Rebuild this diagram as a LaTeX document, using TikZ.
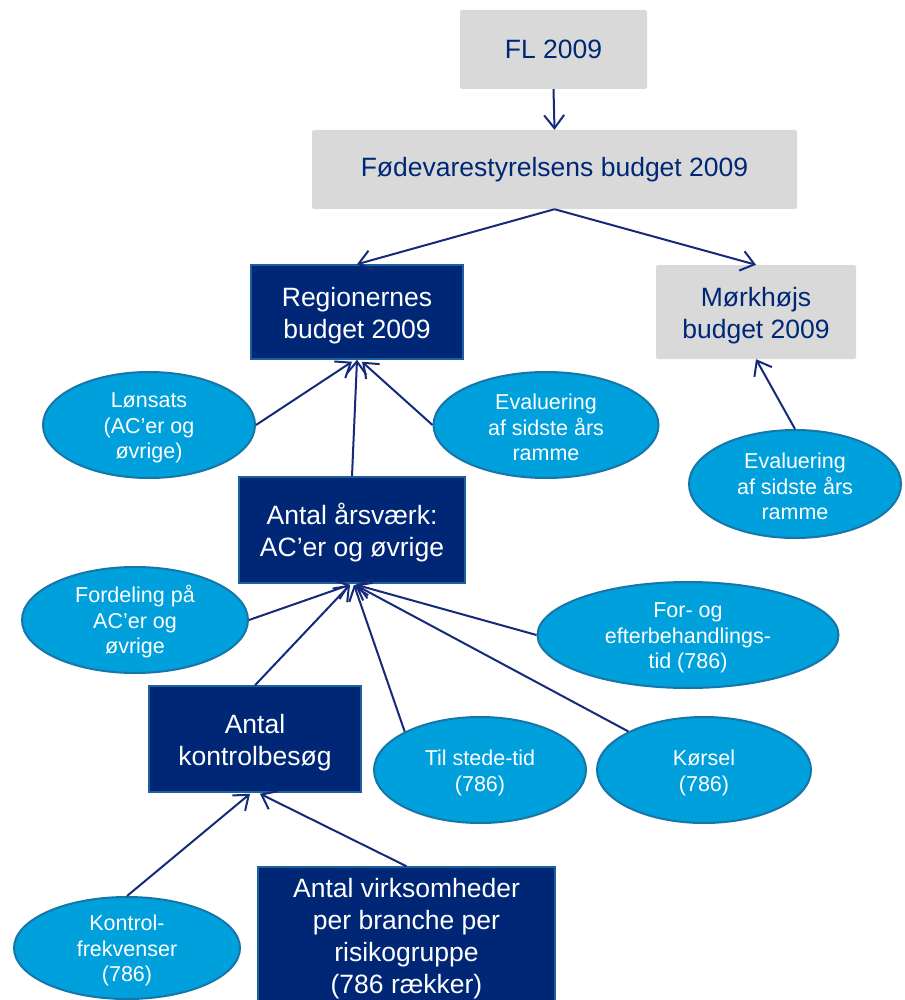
\documentclass[tikz,border=0pt]{standalone}
\usepackage{fontspec}
\setmainfont{Liberation Sans}
\usetikzlibrary{shapes.geometric,arrows.meta,calc}
\definecolor{navy}{RGB}{0,39,118}
\definecolor{navyline}{RGB}{22,42,122}
\definecolor{boxgray}{RGB}{217,217,217}
\definecolor{ellfill}{RGB}{0,160,220}
\definecolor{ellline}{RGB}{22,118,170}
\definecolor{navyborder}{RGB}{28,96,156}
\newcommand{\myTopA}{\rule{0pt}{27pt}}
\newcommand{\myTopB}{\rule{0pt}{21pt}}
\tikzset{
  graybox/.style={rectangle, rounded corners=2pt, fill=boxgray, text=navy,
    font=\fontsize{26.5}{32}\selectfont, align=center, inner sep=0pt},
  navybox/.style={rectangle, fill=navy, draw=navyborder, line width=1.5pt, text=white,
    font=\fontsize{26.5}{32}\selectfont, align=center, inner sep=0pt},
  oval/.style={ellipse, fill=ellfill, draw=ellline, line width=2pt, text=white,
    font=\fontsize{21.5}{25.5}\selectfont, align=center, inner xsep=0pt, inner ysep=-10pt},
  conn/.style={draw=navyline, line width=2pt,
    -{Straight Barb[length=13pt, width=20pt, line width=2pt]}}
}
\begin{document}
\begin{tikzpicture}[x=1pt,y=-1pt]
\useasboundingbox (0,0) rectangle (904,1000);
\clip (0,0) rectangle (904,1000);
\fill[white] (0,0) rectangle (904,1000);

% boxes
\node[graybox, minimum width=187, minimum height=79] (fl) at (553.5,49.5) {FL 2009};
\node[graybox, minimum width=485, minimum height=79] (fod) at (554.5,169.5) {Fødevarestyrelsens budget 2009};
\node[navybox, minimum width=212, minimum height=94] (reg) at (357,312) {\myTopA Regionernes\\budget 2009};
\node[graybox, minimum width=200, minimum height=94] (mork) at (756,312) {\myTopA Mørkhøjs\\budget 2009};
\node[navybox, minimum width=226, minimum height=106] (aars) at (352,530) {\myTopA Antal årsværk:\\AC’er og øvrige};
\node[navybox, minimum width=212, minimum height=106] (kb) at (255,739) {\myTopA Antal\\kontrolbesøg};
\node[navybox, minimum width=297, minimum height=136] (virk) at (406.5,935) {\myTopA Antal virksomheder\\per branche per\\risikogruppe\\(786 rækker)};

% ellipses
\node[oval, minimum width=212, minimum height=106] (lon) at (149,425) {\myTopB Lønsats\\(AC’er og\\øvrige)};
\node[oval, minimum width=225, minimum height=106] (eva) at (546,425) {\myTopB Evaluering\\af sidste års\\ramme};
\node[oval, minimum width=212, minimum height=108] (evb) at (795,484) {\myTopB Evaluering\\af sidste års\\ramme};
\node[oval, minimum width=226, minimum height=106] (ford) at (135,620) {\myTopB Fordeling på\\AC’er og\\øvrige};
\node[oval, minimum width=301, minimum height=106] (forog) at (688,635) {\myTopB For- og\\efterbehandlings-\\tid (786)};
\node[oval, minimum width=212, minimum height=106] (til) at (480,770) {\myTopB Til stede-tid\\(786)};
\node[oval, minimum width=214, minimum height=106] (kor) at (704,770) {\myTopB Kørsel\\(786)};
\node[oval, minimum width=226, minimum height=102] (kon) at (127,948) {\myTopB Kontrol-\\frekvenser\\(786)};

% connectors
\draw[conn] (fl.south) -- (fod.north);
\draw[conn] (fod.south) -- (reg.north);
\draw[conn] (fod.south) -- (mork.north);
\draw[conn] (lon.east) -- ($(reg.south)+(-5,2)$);
\draw[conn] (eva.west) -- ($(reg.south)+(5,2)$);
\draw[conn] (aars.north) -- (reg.south);
\draw[conn] (evb.north) -- (mork.south);
\draw[conn] (ford.east) -- ($(aars.south)+(-2,1)$);
\draw[conn] (kb.north) -- ($(aars.south)+(-2,1)$);
\draw[conn] (til.153) -- ($(aars.south)+(2,1)$);
\draw[conn] (kor.153) -- ($(aars.south)+(3,1)$);
\draw[conn] (forog.west) -- ($(aars.south)+(4,1)$);
\draw[conn] (kon.north) -- ($(kb.south)+(-5,1)$);
\draw[conn] (virk.north) -- ($(kb.south)+(5,1)$);
\end{tikzpicture}
\end{document}
